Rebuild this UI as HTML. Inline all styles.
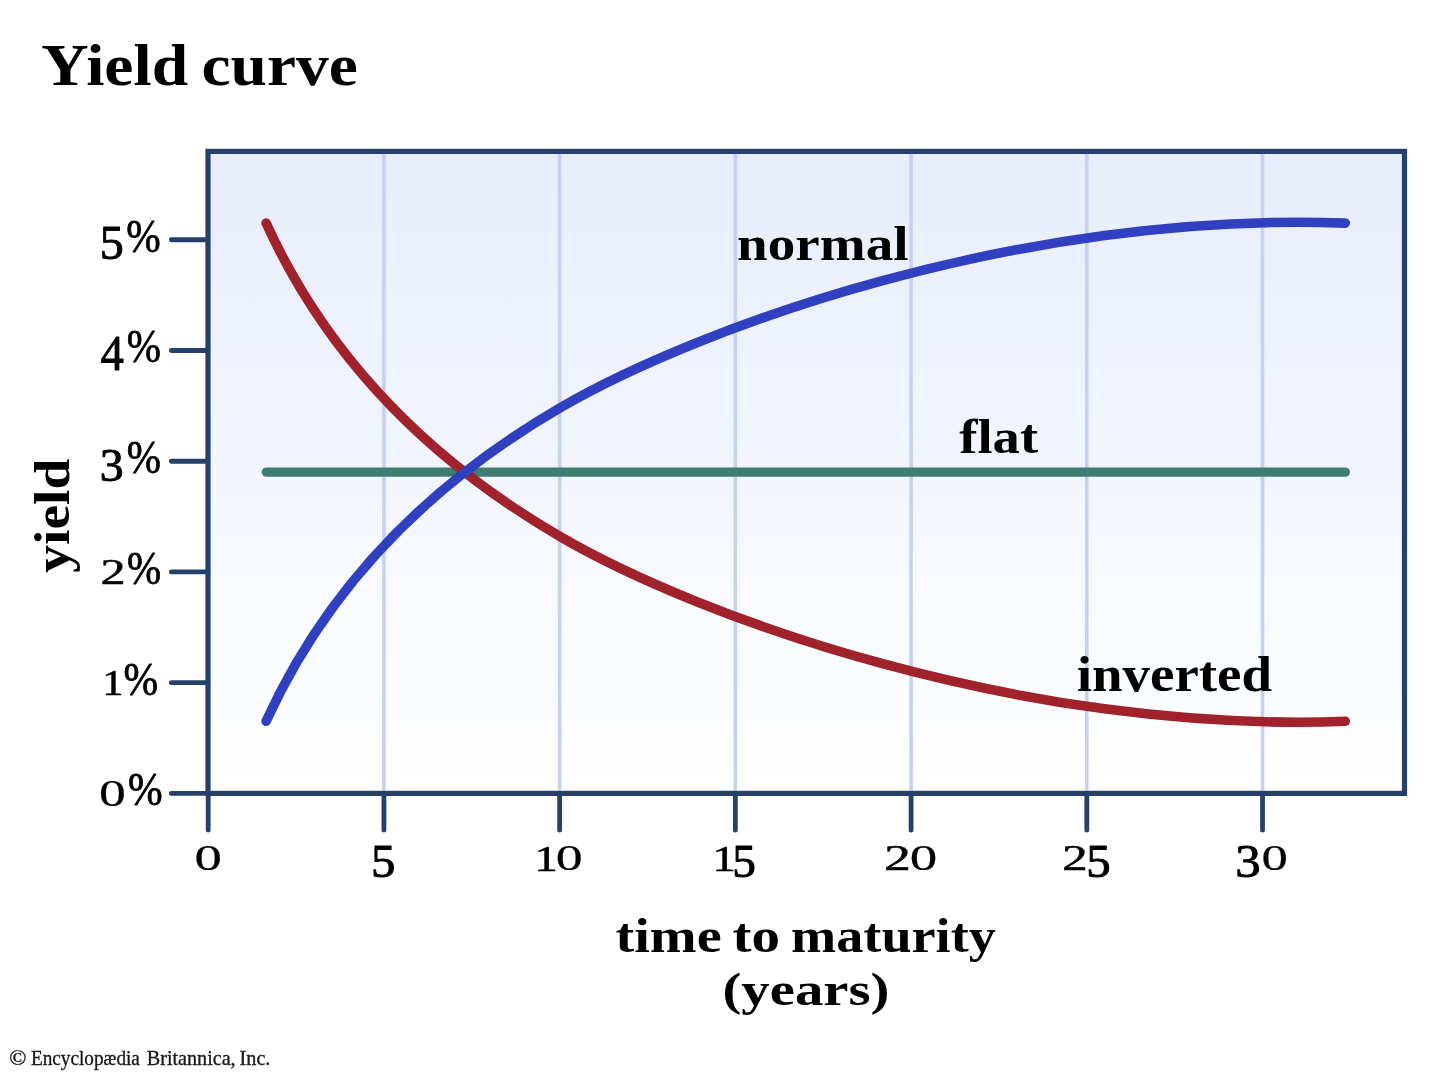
<!DOCTYPE html>
<html lang="en">
<head>
<meta charset="utf-8">
<title>Yield curve</title>
<style>
html,body{margin:0;padding:0;background:#fff}
body{width:1440px;height:1079px;overflow:hidden}
svg{display:block;will-change:transform}
</style>
</head>
<body>
<svg width="1440" height="1079" viewBox="0 0 1440 1079" font-family="'Liberation Serif', serif" font-size="100">
<defs><linearGradient id="bg" x1="0" y1="0" x2="0" y2="1"><stop offset="0" stop-color="#e8edfb"/><stop offset="0.5" stop-color="#f2f5fd"/><stop offset="0.75" stop-color="#f9fcff"/><stop offset="0.895" stop-color="#fbfdff"/><stop offset="0.91" stop-color="#fefeff"/><stop offset="1" stop-color="#fff"/></linearGradient></defs>
<rect width="1440" height="1079" fill="#fff"/>
<rect x="208" y="151.4" width="1196.5" height="642" fill="url(#bg)"/>
<path d="M383.92 151.4V793.4M559.64 151.4V793.4M735.36 151.4V793.4M911.08 151.4V793.4M1086.8 151.4V793.4M1262.52 151.4V793.4" stroke="#c6d0f4" stroke-width="3.6" fill="none"/>
<rect x="208" y="151.4" width="1196.5" height="642" fill="none" stroke="#25406b" stroke-width="5.2"/>
<path d="M208.2 793.4V830.2M383.92 793.4V830.2M559.64 793.4V830.2M735.36 793.4V830.2M911.08 793.4V830.2M1086.8 793.4V830.2M1262.52 793.4V830.2M208 793.45H171.3M208 682.71H171.3M208 571.97H171.3M208 461.23H171.3M208 350.49H171.3M208 239.75H171.3" stroke="#25406b" stroke-width="4.8" stroke-linecap="round" fill="none"/>
<g fill="none" stroke-width="9.6" stroke-linecap="round">
<path d="M266.4 472.1H1345.3" stroke="#3f7d72" stroke-width="9.4"/>
<path d="M266.1 223.1C331.62 366.96 437.67 465.69 561.71 537.52 698.85 616.92 1019.09 733.42 1345.3 721.3" stroke="#a0222b"/>
<path d="M266.1 721.3C331.62 577.44 437.67 478.71 561.71 406.88 698.85 327.48 1019.09 210.98 1345.3 223.1" stroke="#3040c0"/>
</g>
<text><tspan x="99.745" y="259.045" font-size="47.761" textLength="24.048" lengthAdjust="spacingAndGlyphs" stroke="#000" stroke-width="0.9" stroke-linejoin="round">5</tspan><tspan x="126.361" y="251.609" font-size="47.059" textLength="34.402" lengthAdjust="spacingAndGlyphs" stroke="#000" stroke-width="0.8" stroke-linejoin="round">%</tspan></text>
<text><tspan x="100.583" y="370.332" font-size="50.758" textLength="23.333" lengthAdjust="spacingAndGlyphs" stroke="#000" stroke-width="0.9" stroke-linejoin="round">4</tspan><tspan x="126.769" y="362.349" font-size="47.059" textLength="34.186" lengthAdjust="spacingAndGlyphs" stroke="#000" stroke-width="0.8" stroke-linejoin="round">%</tspan></text>
<text><tspan x="99.834" y="480.656" font-size="46.176" textLength="23.953" lengthAdjust="spacingAndGlyphs" stroke="#000" stroke-width="0.9" stroke-linejoin="round">3</tspan><tspan x="126.769" y="473.089" font-size="47.059" textLength="34.186" lengthAdjust="spacingAndGlyphs" stroke="#000" stroke-width="0.8" stroke-linejoin="round">%</tspan></text>
<text><tspan x="100.47" y="584.129" font-size="36.642" textLength="25.061" lengthAdjust="spacingAndGlyphs" stroke="#000" stroke-width="0.55" stroke-linejoin="round">2</tspan><tspan x="126.969" y="583.829" font-size="47.059" textLength="34.186" lengthAdjust="spacingAndGlyphs" stroke="#000" stroke-width="0.8" stroke-linejoin="round">%</tspan></text>
<text><tspan x="102.15" y="695.26" font-size="36.667" textLength="21.25" lengthAdjust="spacingAndGlyphs" stroke="#000" stroke-width="0.5" stroke-linejoin="round">1</tspan><tspan x="123.553" y="694.569" font-size="47.059" textLength="34.619" lengthAdjust="spacingAndGlyphs" stroke="#000" stroke-width="0.8" stroke-linejoin="round">%</tspan></text>
<text><tspan x="99.091" y="805.906" font-size="37.206" textLength="26.818" lengthAdjust="spacingAndGlyphs" stroke="#000" stroke-width="0.2" stroke-linejoin="round">0</tspan><tspan x="128.053" y="805.309" font-size="47.059" textLength="34.619" lengthAdjust="spacingAndGlyphs" stroke="#000" stroke-width="0.8" stroke-linejoin="round">%</tspan></text>
<text><tspan x="194.457" y="870.465" font-size="36.765" textLength="27.386" lengthAdjust="spacingAndGlyphs" stroke="#000" stroke-width="0.2" stroke-linejoin="round">0</tspan></text>
<text><tspan x="370.91" y="876.819" font-size="46.567" textLength="24.405" lengthAdjust="spacingAndGlyphs" stroke="#000" stroke-width="0.9" stroke-linejoin="round">5</tspan></text>
<text><tspan x="534.372" y="870.65" font-size="35.909" textLength="23.611" lengthAdjust="spacingAndGlyphs" stroke="#000" stroke-width="0.5" stroke-linejoin="round">1</tspan><tspan x="555.884" y="870.465" font-size="36.765" textLength="26.932" lengthAdjust="spacingAndGlyphs" stroke="#000" stroke-width="0.2" stroke-linejoin="round">0</tspan></text>
<text><tspan x="712.272" y="870.65" font-size="35.909" textLength="23.611" lengthAdjust="spacingAndGlyphs" stroke="#000" stroke-width="0.5" stroke-linejoin="round">1</tspan><tspan x="732.381" y="876.819" font-size="46.567" textLength="23.69" lengthAdjust="spacingAndGlyphs" stroke="#000" stroke-width="0.9" stroke-linejoin="round">5</tspan></text>
<text><tspan x="884.153" y="870.263" font-size="36.194" textLength="26.524" lengthAdjust="spacingAndGlyphs" stroke="#000" stroke-width="0.55" stroke-linejoin="round">2</tspan><tspan x="909.65" y="870.465" font-size="36.765" textLength="27.5" lengthAdjust="spacingAndGlyphs" stroke="#000" stroke-width="0.2" stroke-linejoin="round">0</tspan></text>
<text><tspan x="1062.141" y="870.263" font-size="36.194" textLength="25.427" lengthAdjust="spacingAndGlyphs" stroke="#000" stroke-width="0.55" stroke-linejoin="round">2</tspan><tspan x="1086.21" y="876.819" font-size="46.567" textLength="24.405" lengthAdjust="spacingAndGlyphs" stroke="#000" stroke-width="0.9" stroke-linejoin="round">5</tspan></text>
<text><tspan x="1235.213" y="876.832" font-size="45.882" textLength="25.465" lengthAdjust="spacingAndGlyphs" stroke="#000" stroke-width="0.9" stroke-linejoin="round">3</tspan><tspan x="1261.518" y="870.465" font-size="36.765" textLength="26.364" lengthAdjust="spacingAndGlyphs" stroke="#000" stroke-width="0.2" stroke-linejoin="round">0</tspan></text>
<text><tspan x="41.244" y="85" font-size="58.986" textLength="146.909" lengthAdjust="spacingAndGlyphs" font-weight="bold">Yield</tspan> <tspan x="201.537" y="85" font-size="58.986" textLength="156.274" lengthAdjust="spacingAndGlyphs" font-weight="bold">curve</tspan></text>
<text><tspan x="737.098" y="260.3" font-size="49.275" textLength="171.434" lengthAdjust="spacingAndGlyphs" font-weight="bold">normal</tspan></text>
<text><tspan x="959.3" y="453.3" font-size="48.028" textLength="78.764" lengthAdjust="spacingAndGlyphs" font-weight="bold">flat</tspan></text>
<text><tspan x="1076.802" y="690.8" font-size="50.435" textLength="195.236" lengthAdjust="spacingAndGlyphs" font-weight="bold">inverted</tspan></text>
<text><tspan x="615.437" y="952" font-size="49.565" textLength="106.204" lengthAdjust="spacingAndGlyphs" font-weight="bold">time</tspan> <tspan x="732.43" y="952" font-size="49.565" textLength="47.48" lengthAdjust="spacingAndGlyphs" font-weight="bold">to</tspan> <tspan x="791.116" y="952" font-size="49.565" textLength="204.684" lengthAdjust="spacingAndGlyphs" font-weight="bold">maturity</tspan></text>
<text><tspan x="722.43" y="1005.4" font-size="46.857" textLength="167.011" lengthAdjust="spacingAndGlyphs" font-weight="bold">(years)</tspan></text>
<text transform="matrix(0 -0.556 0.504 0 69.4 572.8)" font-weight="bold">yield</text>
<text><tspan x="9.372" y="1065.2" font-size="20.181" textLength="17.151" lengthAdjust="spacingAndGlyphs" fill="#1a1a1a" stroke="#1a1a1a" stroke-width="0.35" stroke-linejoin="round">©</tspan> <tspan x="30.991" y="1065.2" font-size="20.181" textLength="108.908" lengthAdjust="spacingAndGlyphs" fill="#1a1a1a" stroke="#1a1a1a" stroke-width="0.35" stroke-linejoin="round">Encyclopædia</tspan> <tspan x="146.772" y="1065.2" font-size="20.181" textLength="88.86" lengthAdjust="spacingAndGlyphs" fill="#1a1a1a" stroke="#1a1a1a" stroke-width="0.35" stroke-linejoin="round">Britannica,</tspan> <tspan x="239.568" y="1065.2" font-size="20.181" textLength="30.87" lengthAdjust="spacingAndGlyphs" fill="#1a1a1a" stroke="#1a1a1a" stroke-width="0.35" stroke-linejoin="round">Inc.</tspan></text>
</svg>
</body>
</html>
